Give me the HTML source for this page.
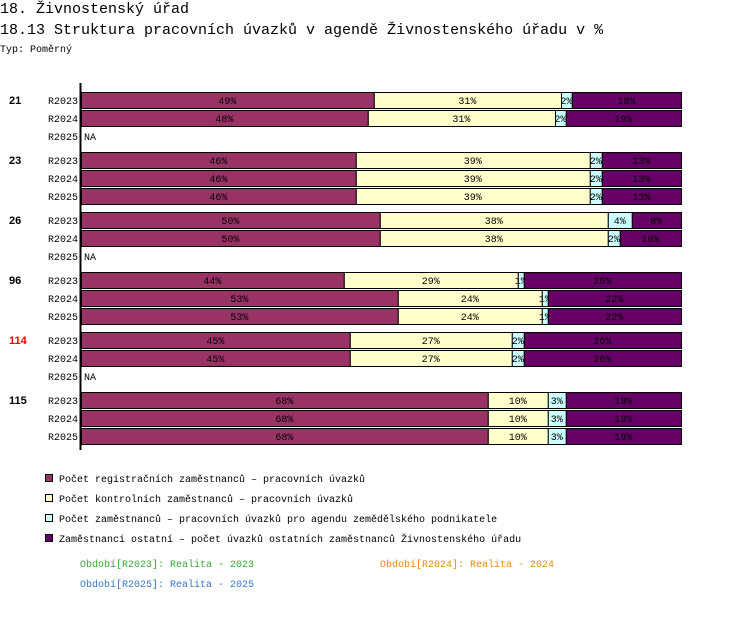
<!DOCTYPE html>
<html><head><meta charset="utf-8"><style>
body{margin:0;background:#fff;width:750px;height:622px;overflow:hidden;font-family:"Liberation Mono",monospace;}
.t{position:absolute;white-space:pre;color:#000}
</style></head><body>
<div class="t" style="left:0;top:1px;font-size:15px">18. Živnostenský úřad</div>
<div class="t" style="left:0;top:22px;font-size:15px">18.13 Struktura pracovních úvazků v agendě Živnostenského úřadu v %</div>
<div class="t" style="left:0;top:45px;font-size:10px">Typ: Poměrný</div>
<svg id="chart" width="750" height="622" style="position:absolute;left:0;top:0" font-family="Liberation Mono, monospace" font-size="10"></svg>
<script>
const groups=["21","23","26","96","114","115"];
const groupColors=["#000","#000","#000","#000","#e00","#000"];
const periods=["R2023","R2024","R2025"];
const regVals=[[48.8,47.8,null],[45.8,45.8,45.8],[49.8,49.8,null],[43.8,52.8,52.8],[44.8,44.8,null],[67.8,67.8,67.8]];
const kontVals=[[31.2,31.2,null],[39,39,39],[38,38,null],[29,24,24],[27,27,null],[10,10,10]];
const zemVals=[[1.8,1.8,null],[2,2,2],[4,2,null],[1,1,1],[2,2,null],[3,3,3]];
const ostVals=[[18.2,19.2,null],[13.2,13.2,13.2],[8.2,10.2,null],[26.2,22.2,22.2],[26.2,26.2,null],[19.2,19.2,19.2]];
const seriesNames=["Počet registračních zaměstnanců – pracovních úvazků","Počet kontrolních zaměstnanců – pracovních úvazků","Počet zaměstnanců – pracovních úvazků pro agendu zemědělského podnikatele","Zaměstnanci ostatní – počet úvazků ostatních zaměstnanců Živnostenského úřadu"];
const colors=["#993366","#FFFFCC","#CCFFFF","#660066"];
const textColors=["#000","#000","#000","#000"];
const svg=document.getElementById('chart');const NS="http://www.w3.org/2000/svg";
function mk(tag,attrs,parent){const e=document.createElementNS(NS,tag);for(const k in attrs)e.setAttribute(k,attrs[k]);(parent||svg).appendChild(e);return e;}
const X0=81,W=600;
function xs(v){return X0+v/100*W;}
function ys(g,p){return 92+g*60+p*18;}
const series=[regVals,kontVals,zemVals,ostVals];
groups.forEach((g,gi)=>{
  const gl=mk('text',{x:9,y:ys(gi,0)+12,'font-weight':'bold','font-size':'11','fill':groupColors[gi],'font-family':'Liberation Sans, sans-serif'});
  
  
  gl.textContent=g;
  periods.forEach((p,pi)=>{
    const y=ys(gi,pi);
    const pl=mk('text',{x:78,y:y+12,'text-anchor':'end'});
    
    
    pl.textContent=p;
    if(regVals[gi][pi]===null){
      const na=mk('text',{x:84,y:y+12});
      
      
      na.textContent="NA";return;
    }
    let acc=0;
    series.forEach((s,si)=>{
      const v=s[gi][pi];const x1=xs(acc),x2=xs(acc+v);acc+=v;
      const r=mk('rect',{x:x1+0.5,y:y+0.5,width:x2-x1,height:16,fill:colors[si],stroke:'#000','stroke-width':1});
      
      
      const t=mk('text',{x:(x1+x2)/2,y:y+12,'text-anchor':'middle',fill:textColors[si]});
      
      
      t.textContent=Math.round(v)+"%";
    });
  });
});
const ax=mk('line',{x1:80.5,y1:83,x2:80.5,y2:450,stroke:'#000','stroke-width':2});


const legY=[479,499,519,539];
seriesNames.forEach((n,i)=>{
  const r=mk('rect',{x:45.5,y:legY[i]-4.5,width:7,height:7,fill:colors[i],stroke:'#000'});
  
  
  const t=mk('text',{x:59,y:legY[i]+3});
  
  
  t.textContent=n;
});
const notes=[["Období[R2023]: Realita - 2023",80,567,"#33aa33"],["Období[R2024]: Realita - 2024",380,567,"#ee8800"],["Období[R2025]: Realita - 2025",80,587,"#3377cc"]];
notes.forEach(n=>{const t=mk('text',{x:n[1],y:n[2],fill:n[3]});


t.textContent=n[0];});
</script>
</body></html>
